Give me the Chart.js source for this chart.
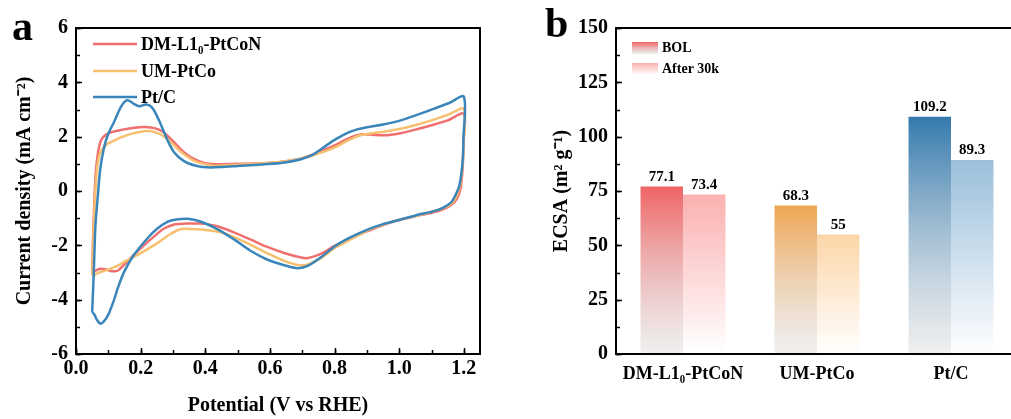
<!DOCTYPE html>
<html>
<head>
<meta charset="utf-8">
<script src="https://cdn.jsdelivr.net/npm/chart.js@4.4.0/dist/chart.umd.min.js"></script>
<style>
  html, body { margin: 0; padding: 0; background: #fff; overflow: hidden; }
  #wrap { position: relative; width: 1011px; height: 419px; overflow: hidden; }
  canvas { position: absolute; top: 0; }
  #cvA { left: 0; }
  #cvB { left: 505px; }
  .tag { position: absolute; font-family: 'Liberation Serif', 'Times New Roman', serif; font-weight: bold; font-size: 42px; line-height: 1; color: #000; }
</style>
</head>
<body>
<div id="wrap">
  <canvas id="cvA" width="500" height="419"></canvas>
  <canvas id="cvB" width="520" height="419"></canvas>
  <div class="tag" style="left:12px; top:5px;">a</div>
  <div class="tag" style="left:545px; top:2px;">b</div>
</div>
<script>
// ---- panel a: CV curves (potential V vs RHE, current mA cm-2) ----
const cvNames = ['DM-L1\u2080-PtCoN', 'UM-PtCo', 'Pt/C'];
const cvColors = ['rgb(240,112,112)', 'rgb(246,192,112)', 'rgb(58,134,186)'];

const dmPotential = [0.05, 0.052, 0.055, 0.058, 0.062, 0.068, 0.077, 0.09, 0.108, 0.14, 0.18, 0.21, 0.232, 0.255, 0.273, 0.295, 0.315, 0.335, 0.356, 0.385, 0.418, 0.5, 0.593, 0.65, 0.696, 0.75, 0.8, 0.84, 0.88, 0.91, 0.954, 1.0, 1.057, 1.1, 1.15, 1.2,
  1.199, 1.197, 1.19, 1.178, 1.16, 1.13, 1.1, 1.05, 1.0, 0.95, 0.902, 0.85, 0.8, 0.76, 0.717, 0.69, 0.644, 0.59, 0.541, 0.49, 0.438, 0.4, 0.376, 0.34, 0.304, 0.27, 0.242, 0.21, 0.18, 0.15, 0.129, 0.11, 0.09, 0.077, 0.065, 0.057, 0.05];
const dmCurrent = [-2.9, -2.0, -1.0, 0, 0.8, 1.4, 1.85, 2.05, 2.16, 2.25, 2.33, 2.36, 2.34, 2.27, 2.14, 1.9, 1.65, 1.42, 1.24, 1.08, 0.99, 1.0, 1.03, 1.1, 1.2, 1.42, 1.68, 1.92, 2.08, 2.08, 2.05, 2.12, 2.28, 2.42, 2.6, 2.84,
  1.8, 1.0, 0.1, -0.3, -0.52, -0.7, -0.8, -0.93, -1.07, -1.25, -1.48, -1.75, -2.02, -2.3, -2.47, -2.43, -2.28, -2.05, -1.79, -1.53, -1.3, -1.21, -1.2, -1.2, -1.23, -1.4, -1.67, -2.0, -2.34, -2.7, -2.93, -2.95, -2.88, -2.86, -2.9, -2.96, -2.92];

const umPotential = [0.05, 0.053, 0.056, 0.06, 0.065, 0.072, 0.082, 0.095, 0.108, 0.14, 0.18, 0.21, 0.232, 0.255, 0.273, 0.295, 0.315, 0.34, 0.366, 0.395, 0.428, 0.5, 0.593, 0.65, 0.696, 0.75, 0.8, 0.84, 0.88, 0.92, 0.954, 1.0, 1.057, 1.1, 1.15, 1.2,
  1.199, 1.196, 1.188, 1.175, 1.16, 1.13, 1.1, 1.05, 1.0, 0.95, 0.902, 0.85, 0.8, 0.76, 0.717, 0.69, 0.65, 0.593, 0.54, 0.49, 0.44, 0.387, 0.35, 0.325, 0.29, 0.253, 0.22, 0.18, 0.15, 0.13, 0.108, 0.085, 0.067, 0.052];
const umCurrent = [-3.1, -2.0, -1.0, 0, 0.8, 1.3, 1.55, 1.72, 1.8, 1.98, 2.13, 2.2, 2.2, 2.12, 2.0, 1.78, 1.54, 1.3, 1.11, 1.0, 0.93, 0.97, 1.03, 1.1, 1.19, 1.38, 1.6, 1.85, 2.05, 2.13, 2.18, 2.28, 2.45, 2.6, 2.8, 3.02,
  1.8, 1.0, 0.2, -0.25, -0.48, -0.66, -0.76, -0.92, -1.06, -1.24, -1.46, -1.78, -2.1, -2.45, -2.7, -2.73, -2.6, -2.3, -1.98, -1.7, -1.5, -1.42, -1.4, -1.4, -1.6, -1.91, -2.15, -2.42, -2.6, -2.75, -2.86, -2.95, -3.02, -3.15];

const ptPotential = [0.05, 0.055, 0.06, 0.066, 0.075, 0.085, 0.098, 0.118, 0.139, 0.155, 0.165, 0.18, 0.196, 0.217, 0.235, 0.255, 0.273, 0.29, 0.304, 0.325, 0.345, 0.375, 0.407, 0.45, 0.5, 0.55, 0.593, 0.65, 0.696, 0.73, 0.758, 0.8, 0.84, 0.87, 0.9, 0.95, 1.005, 1.055, 1.108, 1.155, 1.2,
  1.199, 1.196, 1.186, 1.172, 1.16, 1.135, 1.108, 1.05, 1.005, 0.95, 0.902, 0.85, 0.8, 0.76, 0.717, 0.686, 0.65, 0.593, 0.54, 0.49, 0.44, 0.387, 0.345, 0.31, 0.284, 0.25, 0.222, 0.18, 0.15, 0.13, 0.118, 0.1, 0.085, 0.075, 0.065, 0.057, 0.05];
const ptCurrent = [-4.45, -3.0, -1.3, -0.4, 0.8, 1.5, 2.05, 2.55, 3.1, 3.33, 3.32, 3.2, 3.12, 3.18, 3.08, 2.65, 2.15, 1.7, 1.42, 1.18, 1.03, 0.92, 0.87, 0.88, 0.92, 0.96, 0.99, 1.06, 1.17, 1.32, 1.54, 1.88, 2.14, 2.27, 2.35, 2.45, 2.6, 2.8, 3.03, 3.24, 3.47,
  2.0, 1.05, 0.19, -0.2, -0.43, -0.62, -0.74, -0.9, -1.05, -1.22, -1.42, -1.7, -2.04, -2.42, -2.76, -2.84, -2.75, -2.53, -2.2, -1.79, -1.42, -1.13, -1.02, -1.05, -1.13, -1.4, -1.73, -2.34, -2.95, -3.55, -4.0, -4.55, -4.82, -4.88, -4.75, -4.55, -4.45];

// ---- panel b: ECSA bars ----
const ecsaCategories = ['DM-L1\u2080-PtCoN', 'UM-PtCo', 'Pt/C'];
const ecsaBOL = [77.1, 68.3, 109.2];
const ecsaAfter = [73.4, 55, 89.3];
const bolColors = ['rgb(238,100,100)', 'rgb(239,165,82)', 'rgb(51,121,173)'];
const afterColors = ['rgb(251,177,177)', 'rgb(252,214,168)', 'rgb(155,191,219)'];

const serif = "'Liberation Serif', 'Times New Roman', serif";
Chart.defaults.font.family = serif;
Chart.defaults.color = '#000';

function toPts(xs, ys) {
  return xs.map((x, i) => ({ x: x, y: ys[i] }));
}

// frame + inward major/minor ticks, drawn from the scales
function frameTicks(opts) {
  return {
    id: 'frameTicks',
    afterDraw(chart) {
      const ctx = chart.ctx;
      const a = chart.chartArea;
      ctx.save();
      ctx.strokeStyle = '#000';
      ctx.lineWidth = 2;
      ctx.strokeRect(a.left, a.top, a.right - a.left, a.bottom - a.top);
      ctx.lineWidth = 1.5;
      (opts.y || []).forEach(t => {
        const s = chart.scales.y;
        for (let v = s.min; v <= s.max + 1e-9; v += t.step) {
          const py = Math.round(s.getPixelForValue(v)) + 0.5;
          ctx.beginPath();
          ctx.moveTo(a.left, py);
          ctx.lineTo(a.left + t.len, py);
          ctx.stroke();
        }
      });
      (opts.x || []).forEach(t => {
        const s = chart.scales.x;
        for (let v = s.min; v <= t.last + 1e-9; v += t.step) {
          const px = Math.round(s.getPixelForValue(v)) + 0.5;
          ctx.beginPath();
          ctx.moveTo(px, a.bottom);
          ctx.lineTo(px, a.bottom - t.len);
          ctx.stroke();
        }
      });
      ctx.restore();
    }
  };
}

const cvLegend = {
  id: 'cvLegend',
  afterDraw(chart) {
    const ctx = chart.ctx;
    const ys = [44, 71, 97];
    ctx.save();
    ctx.font = 'bold 18px ' + serif;
    ctx.textBaseline = 'middle';
    cvNames.forEach((name, i) => {
      ctx.strokeStyle = cvColors[i];
      ctx.lineWidth = 2.5;
      ctx.beginPath();
      ctx.moveTo(93, ys[i]);
      ctx.lineTo(137, ys[i]);
      ctx.stroke();
      ctx.fillStyle = '#000';
      ctx.fillText(name, 141, ys[i] + 1);
    });
    ctx.restore();
  }
};

new Chart(document.getElementById('cvA'), {
  type: 'scatter',
  data: {
    datasets: [
      { label: cvNames[0], data: toPts(dmPotential, dmCurrent), borderColor: cvColors[0], order: 2 },
      { label: cvNames[1], data: toPts(umPotential, umCurrent), borderColor: cvColors[1], order: 1 },
      { label: cvNames[2], data: toPts(ptPotential, ptCurrent), borderColor: cvColors[2], order: 0 }
    ].map(d => Object.assign(d, { showLine: true, pointRadius: 0, borderWidth: 2.5, tension: 0.3, fill: false }))
  },
  options: {
    responsive: false,
    animation: false,
    layout: { padding: { top: 28, right: 20, left: 0, bottom: 0 } },
    plugins: { legend: { display: false }, tooltip: { enabled: false } },
    scales: {
      x: {
        type: 'linear', min: 0, max: 1.25,
        grid: { display: false, drawTicks: false },
        border: { display: false },
        ticks: { stepSize: 0.2, includeBounds: false, padding: 3, font: { size: 20, weight: 'bold' }, callback: v => v.toFixed(1) },
        title: { display: true, text: 'Potential (V vs RHE)', font: { size: 20, weight: 'bold' }, padding: { top: 0, bottom: 1 } },
        afterFit: s => { s.height = 65; }
      },
      y: {
        min: -6, max: 6,
        grid: { display: false, drawTicks: false },
        border: { display: false },
        ticks: { stepSize: 2, padding: 8, font: { size: 20, weight: 'bold' } },
        title: { display: true, text: 'Current density (mA cm\u207B\u00B2)', font: { size: 20, weight: 'bold' }, padding: { top: 13, bottom: 0 } },
        afterFit: s => { s.width = 76; }
      }
    }
  },
  plugins: [frameTicks({ y: [{ step: 2, len: 6 }, { step: 1, len: 4 }], x: [{ step: 0.2, len: 6, last: 1.2 }, { step: 0.1, len: 4, last: 1.2 }] }), cvLegend]
});

// bar fill: colour at the top fading to the bottom of the plot
function barFill(colors, bottomColor) {
  return c => {
    const chart = c.chart;
    const area = chart.chartArea;
    if (!area || c.raw === undefined) return colors[c.dataIndex];
    const top = chart.scales.y.getPixelForValue(c.raw);
    const g = chart.ctx.createLinearGradient(0, top, 0, area.bottom);
    g.addColorStop(0, colors[c.dataIndex]);
    g.addColorStop(1, bottomColor);
    return g;
  };
}

const barValues = {
  id: 'barValues',
  afterDatasetsDraw(chart) {
    const ctx = chart.ctx;
    ctx.save();
    ctx.font = 'bold 15px ' + serif;
    ctx.fillStyle = '#000';
    ctx.textAlign = 'center';
    ctx.textBaseline = 'bottom';
    chart.data.datasets.forEach((ds, i) => {
      chart.getDatasetMeta(i).data.forEach((el, j) => {
        ctx.fillText(String(ds.data[j]), el.x, el.y - 2);
      });
    });
    ctx.restore();
  }
};

const barLegend = {
  id: 'barLegend',
  afterDraw(chart) {
    const ctx = chart.ctx;
    const items = [
      { text: 'BOL', top: 42, color: bolColors[0], end: 'rgba(225,225,225,0.6)' },
      { text: 'After 30k', top: 63, color: afterColors[0], end: 'rgba(255,255,255,1)' }
    ];
    ctx.save();
    ctx.font = 'bold 14px ' + serif;
    ctx.textBaseline = 'middle';
    items.forEach(it => {
      const g = ctx.createLinearGradient(0, it.top, 0, it.top + 12);
      g.addColorStop(0, it.color);
      g.addColorStop(1, it.end);
      ctx.fillStyle = g;
      ctx.fillRect(127, it.top, 26, 12);
      ctx.fillStyle = '#000';
      ctx.fillText(it.text, 157, it.top + 6);
    });
    ctx.restore();
  }
};

new Chart(document.getElementById('cvB'), {
  type: 'bar',
  data: {
    labels: ecsaCategories,
    datasets: [
      { label: 'BOL', data: ecsaBOL, backgroundColor: barFill(bolColors, 'rgba(226,226,226,0.55)') },
      { label: 'After 30k', data: ecsaAfter, backgroundColor: barFill(afterColors, 'rgba(255,255,255,1)') }
    ]
  },
  options: {
    responsive: false,
    animation: false,
    layout: { padding: { top: 28, right: 7, left: 0, bottom: 0 } },
    datasets: { bar: { barPercentage: 1, categoryPercentage: 0.634, borderWidth: 0 } },
    plugins: { legend: { display: false }, tooltip: { enabled: false } },
    scales: {
      x: {
        grid: { display: false, drawTicks: false },
        border: { display: false },
        ticks: { padding: 10, font: { size: 18, weight: 'bold' } },
        afterFit: s => { s.height = 65; }
      },
      y: {
        min: 0, max: 150,
        grid: { display: false, drawTicks: false },
        border: { display: false },
        ticks: { stepSize: 25, padding: 8, font: { size: 20, weight: 'bold' } },
        title: { display: true, text: 'ECSA (m\u00B2 g\u207B\u00B9)', font: { size: 20, weight: 'bold' }, padding: { top: 45, bottom: 0 } },
        afterFit: s => { s.width = 111; }
      }
    }
  },
  plugins: [frameTicks({ y: [{ step: 25, len: 6 }, { step: 12.5, len: 4 }] }), barValues, barLegend]
});
</script>
</body>
</html>
